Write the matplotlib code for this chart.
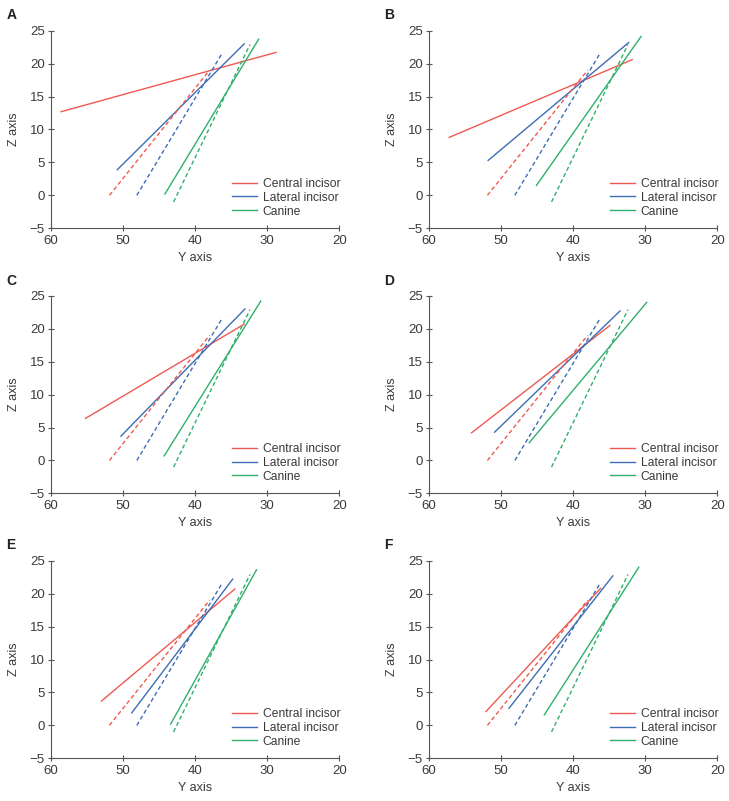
import matplotlib
matplotlib.use('Agg')
import matplotlib.pyplot as plt

# reference (dashed) lines, same in every panel: [y_start, y_end], [z_start, z_end]
ref_central = ([51.9, 38.0], [0.0, 19.0])
ref_lateral = ([48.1, 36.3], [0.0, 21.5])
ref_canine = ([43.0, 32.4], [-1.0, 22.9])

# measured (solid) lines per panel
panels = ['A', 'B', 'C', 'D', 'E', 'F']
central_y = [[58.6, 28.8], [57.2, 31.8], [55.2, 33.2], [54.1, 34.9], [53.0, 34.5], [52.1, 36.2]]
central_z = [[12.7, 21.7], [8.8, 20.6], [6.4, 20.7], [4.2, 20.5], [3.7, 20.7], [2.1, 20.8]]
lateral_y = [[50.8, 33.2], [51.8, 32.3], [50.3, 33.1], [50.9, 33.5], [48.8, 34.8], [48.9, 34.5]]
lateral_z = [[3.9, 23.0], [5.3, 23.2], [3.7, 23.0], [4.3, 22.7], [1.9, 22.2], [2.6, 22.7]]
canine_y = [[44.2, 31.2], [45.1, 30.6], [44.3, 30.9], [46.1, 29.8], [43.4, 31.5], [44.0, 30.9]]
canine_z = [[0.2, 23.7], [1.5, 24.1], [0.7, 24.2], [2.7, 24.0], [0.2, 23.6], [1.6, 24.0]]

red = '#ee5a52'
blue = '#3d6db5'
green = '#2fb06a'
txt = '#3a3a3a'

plt.rcParams['font.family'] = ['Liberation Sans', 'DejaVu Sans']
plt.rcParams['font.size'] = 8.5

fig = plt.figure(figsize=(7.29, 8.01), dpi=100)

lefts = [0.070, 0.5885]
bottoms = [0.715, 0.384, 0.0533]
w, h = 0.3955, 0.2467

for i, name in enumerate(panels):
    col = i % 2
    row = i // 2
    ax = fig.add_axes([lefts[col], bottoms[row], w, h])

    ax.plot(central_y[i], central_z[i], color=red, lw=1.0, label='Central incisor')
    ax.plot(lateral_y[i], lateral_z[i], color=blue, lw=1.0, label='Lateral incisor')
    ax.plot(canine_y[i], canine_z[i], color=green, lw=1.0, label='Canine')
    ax.plot(*ref_central, color=red, lw=1.0, ls=(0, (3, 2)))
    ax.plot(*ref_lateral, color=blue, lw=1.0, ls=(0, (3, 2)))
    ax.plot(*ref_canine, color=green, lw=1.0, ls=(0, (3, 2)))

    ax.set_xlim(60, 20)
    ax.set_ylim(-5, 25)
    ax.set_xticks([60, 50, 40, 30, 20])
    ax.set_yticks([-5, 0, 5, 10, 15, 20, 25])
    ax.set_yticklabels(['\u22125', '0', '5', '10', '15', '20', '25'])
    ax.spines['top'].set_visible(False)
    ax.spines['right'].set_visible(False)
    for s in ['left', 'bottom']:
        ax.spines[s].set_color('#555555')
        ax.spines[s].set_linewidth(0.8)
    ax.tick_params(direction='inout', length=5, width=0.8, color='#555555',
                   labelcolor=txt, labelsize=9.5, pad=2)
    ax.set_xlabel('Y axis', color=txt, fontsize=9, labelpad=4)
    ax.set_ylabel('Z axis', color=txt, fontsize=9, labelpad=7)

    leg = ax.legend(loc='lower right', bbox_to_anchor=(1.02, 0.03), frameon=False,
                    fontsize=8.7, handlelength=2.0, handletextpad=0.5,
                    labelspacing=0.15, borderaxespad=0.0)
    for t in leg.get_texts():
        t.set_color(txt)

    fig.text(lefts[col] - 0.061, bottoms[row] + h + 0.019, name,
             fontsize=10, fontweight='bold', color='#222222', va='center')

fig.savefig('out.png', dpi=100)
